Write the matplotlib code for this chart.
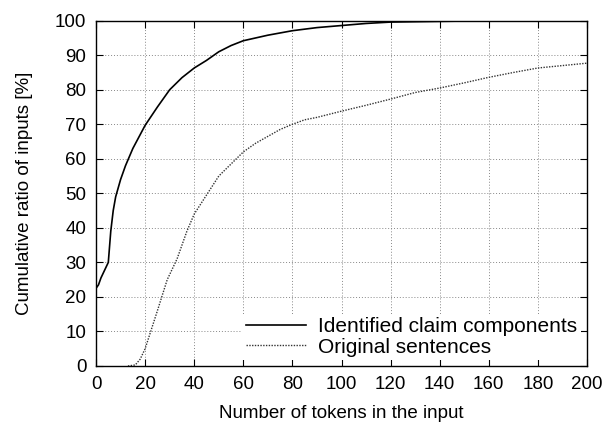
import matplotlib
matplotlib.use('Agg')
import matplotlib.pyplot as plt

plt.rcParams['font.family'] = ['Liberation Sans', 'DejaVu Sans']

# Identified claim components (solid)
claim_x = [0, 1, 2, 4, 5, 6, 7, 8, 10, 12, 15, 20, 25, 30, 35, 40, 45, 50, 55, 60,
           70, 80, 90, 100, 110, 120, 140, 160, 200]
claim_y = [22.5, 23.5, 25.5, 28.5, 30, 39, 45, 49, 54, 58, 63, 69.7, 75, 80, 83.5, 86.3,
           88.5, 91, 92.8, 94.2, 95.8, 97.1, 98, 98.6, 99.2, 99.6, 99.8, 100, 100]

# Original sentences (dotted)
orig_x = [13, 16, 18, 20, 25, 29, 33, 37, 40, 45, 50, 55, 60, 65, 70, 75, 80, 85, 90,
          100, 110, 120, 130, 140, 150, 160, 170, 180, 190, 200]
orig_y = [0, 0.3, 2, 5, 16, 25, 31, 39, 44, 49.5, 55, 58.5, 62, 64.5, 66.5, 68.5, 70,
          71.3, 72, 73.8, 75.5, 77.3, 79.2, 80.5, 82, 83.6, 85, 86.3, 87, 87.7]

xticks = list(range(0, 201, 20))
yticks = list(range(0, 101, 10))

fig = plt.figure(figsize=(6.14, 4.32), dpi=100)
ax = fig.add_axes([0.1564, 0.1528, 0.7996, 0.7993])

ax.plot(claim_x, claim_y, color='black', lw=1.2, label='Identified claim components')
ax.plot(orig_x, orig_y, color='#333333', lw=1.0, linestyle=(0, (1, 1)),
        label='Original sentences')

ax.set_xlim(0, 200)
ax.set_ylim(0, 100)
ax.set_xticks(xticks)
ax.set_yticks(yticks)
ax.tick_params(direction='in', top=True, right=True, length=5, labelsize=13.5, pad=7)
ax.grid(True, linestyle=(0, (1, 2)), color='#888888', lw=0.7)
for s in ax.spines.values():
    s.set_linewidth(1.0)

ax.set_xlabel('Number of tokens in the input', fontsize=13.5, labelpad=9)
ax.set_ylabel('Cumulative ratio of inputs [%]', fontsize=13.5, labelpad=16)

leg = ax.legend(loc='lower right', fontsize=15, frameon=True, fancybox=False,
                framealpha=1, edgecolor='none', facecolor='white',
                handlelength=2.9, handletextpad=0.6, borderpad=0.15,
                labelspacing=0.08, borderaxespad=0.3)

fig.savefig('out.png', dpi=100)
